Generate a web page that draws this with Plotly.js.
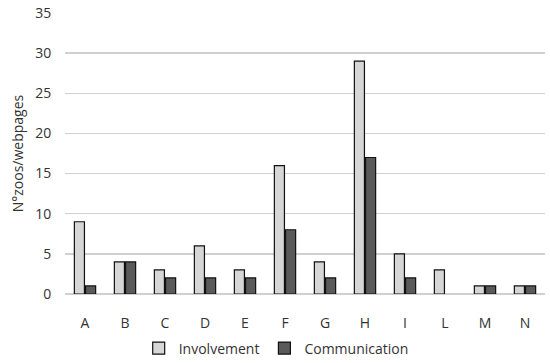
<!DOCTYPE html>
<html><head><meta charset="utf-8">
<script src="https://cdn.plot.ly/plotly-3.0.1.min.js"></script>
<style>html,body{margin:0;padding:0;background:#fff}#c{width:550px;height:363px}</style>
</head><body><div id="c"></div>
<script>
const categories = ["A","B","C","D","E","F","G","H","I","L","M","N"];
const involvement = [9,4,3,6,3,16,4,29,5,3,1,1];
const communication = [1,4,2,2,2,8,2,17,2,0,1,1];
const yTicks = [0,5,10,15,20,25,30,35];

const font = {family:"Open Sans, Noto Sans, sans-serif", size:14, color:"#333"};
const outline = vals => vals.map(v => v === 0 ? 0 : 1.2);
const traces = [
  {type:"bar", name:"Involvement", x:categories, y:involvement,
   marker:{color:"#d6d6d6", line:{color:"#111", width:outline(involvement)}}},
  {type:"bar", name:"Communication", x:categories, y:communication,
   marker:{color:"#5a5a5a", line:{color:"#111", width:outline(communication)}}}
];
const layout = {
  width:550, height:363,
  margin:{l:65, r:5, t:13, b:69},
  paper_bgcolor:"#fff", plot_bgcolor:"#fff",
  font:font,
  barmode:"group", bargap:0.44, bargroupgap:0.1,
  xaxis:{automargin:false, showgrid:false, showline:false, ticks:"outside", ticklen:16,
         tickcolor:"rgba(0,0,0,0)", tickfont:{size:14}, zeroline:false},
  yaxis:{automargin:false, range:[0,35], tickvals:yTicks, showgrid:true, gridcolor:"#d0d0d0", gridwidth:1.3,
         zeroline:true, zerolinecolor:"#d0d0d0", zerolinewidth:1.3, ticks:"outside", ticklen:10,
         tickcolor:"rgba(0,0,0,0)", tickfont:{size:14},
         title:{text:"N°zoos/webpages", font:{size:14}, standoff:8}},
  showlegend:true,
  legend:{orientation:"h", x:0.44, xanchor:"center", yref:"container", y:0.04, yanchor:"middle",
          font:{size:14}, itemwidth:30, traceorder:"normal"}
};
Plotly.newPlot("c", traces, layout, {displayModeBar:false, staticPlot:true});
</script></body></html>
